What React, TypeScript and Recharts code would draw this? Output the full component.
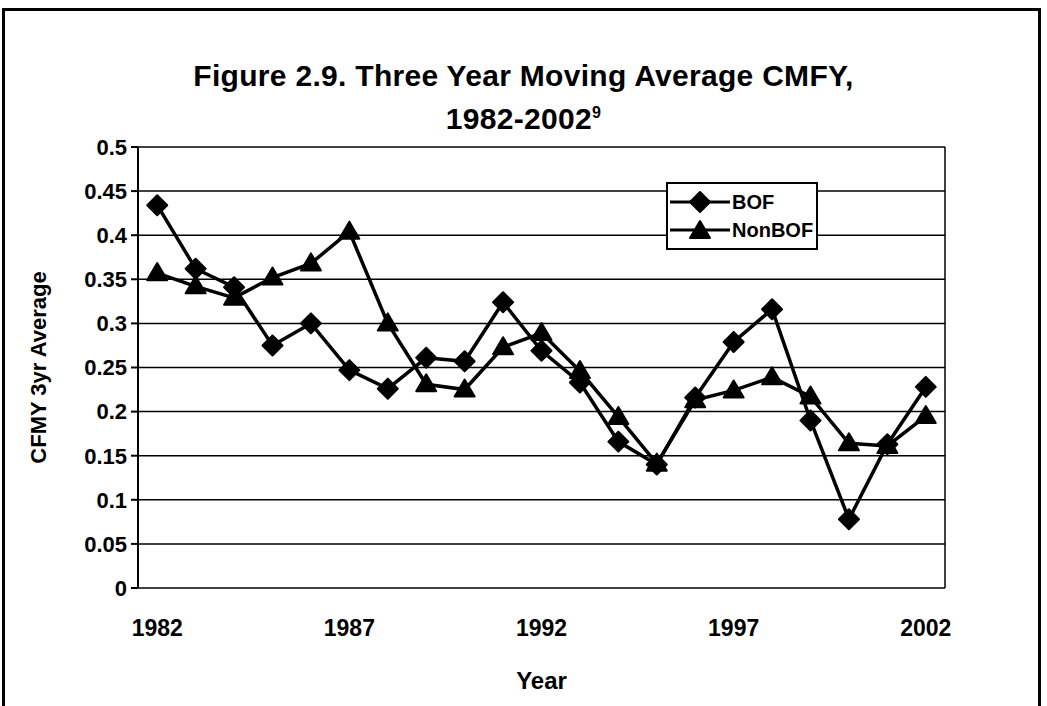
import React from 'react';
import { LineChart, Line, XAxis, YAxis, CartesianGrid, Legend, ReferenceLine } from 'recharts';

const years = [1982, 1983, 1984, 1985, 1986, 1987, 1988, 1989, 1990, 1991, 1992, 1993, 1994, 1995, 1996, 1997, 1998, 1999, 2000, 2001, 2002];
const bof = [0.434, 0.362, 0.341, 0.275, 0.3, 0.247, 0.226, 0.261, 0.257, 0.324, 0.269, 0.233, 0.166, 0.14, 0.216, 0.279, 0.316, 0.19, 0.078, 0.163, 0.228];
const nonBof = [0.357, 0.342, 0.329, 0.352, 0.368, 0.404, 0.3, 0.231, 0.225, 0.273, 0.289, 0.246, 0.194, 0.141, 0.213, 0.224, 0.239, 0.217, 0.164, 0.161, 0.195];
const yTicks = [0, 0.05, 0.1, 0.15, 0.2, 0.25, 0.3, 0.35, 0.4, 0.45, 0.5];
const yearLabels = [1982, 1987, 1992, 1997, 2002];
const yearEdges = [1981.5, 1982.5, 1983.5, 1984.5, 1985.5, 1986.5, 1987.5, 1988.5, 1989.5, 1990.5, 1991.5, 1992.5, 1993.5, 1994.5, 1995.5, 1996.5, 1997.5, 1998.5, 1999.5, 2000.5, 2001.5, 2002.5];

const data = years.map((year, i) => ({ year, bof: bof[i], nonBof: nonBof[i] }));

const font = '"Liberation Sans", Arial, sans-serif';

const Diamond = (props: any) => {
    const { cx, cy, key } = props;
    if (cx == null || cy == null) return <g key={key} />;
    const r = 10;
    return <polygon key={key} points={`${cx},${cy - r} ${cx + r},${cy} ${cx},${cy + r} ${cx - r},${cy}`} fill="#000" stroke="#000" strokeWidth={2} strokeLinejoin="round" />;
};

const Triangle = (props: any) => {
    const { cx, cy, key } = props;
    if (cx == null || cy == null) return <g key={key} />;
    const r = 10;
    return <polygon key={key} points={`${cx},${cy - r} ${cx + r},${cy + r * 0.7} ${cx - r},${cy + r * 0.7}`} fill="#000" stroke="#000" strokeWidth={2} strokeLinejoin="round" />;
};

const LegendBox = (props: any) => {
    const items = props.payload || [];
    return (
        <div style={{ border: '2px solid #000', background: '#fff', padding: '4px 2px', width: 152, boxSizing: 'border-box' }}>
            {items.map((item: any) => (
                <div key={item.value} style={{ display: 'flex', alignItems: 'center', height: 28 }}>
                    <svg width={60} height={24}>
                        <line x1={0} y1={12} x2={60} y2={12} stroke="#000" strokeWidth={3} />
                        {item.dataKey === 'bof' ? <Diamond cx={30} cy={12} /> : <Triangle cx={30} cy={13} />}
                    </svg>
                    <span style={{ fontFamily: font, fontWeight: 'bold', fontSize: 20, marginLeft: 2 }}>{item.value}</span>
                </div>
            ))}
        </div>
    );
};

const App = () => {
    return (
        <div style={{ position: 'absolute', left: 0, top: 0, width: 1047, height: 706, background: '#fff', overflow: 'hidden' }}>
            <div style={{ position: 'absolute', left: 2, top: 8, right: 6, bottom: -4, border: '3px solid #000' }} />
            <div style={{ position: 'absolute', left: 0, top: 54, width: 1047, textAlign: 'center', fontFamily: font, fontWeight: 'bold', fontSize: 30, lineHeight: '43px', letterSpacing: 0.3, color: '#000' }}>
                <div>Figure 2.9. Three Year Moving Average CMFY,</div>
                <div>1982-2002<sup style={{ fontSize: 16, lineHeight: 0 }}>9</sup></div>
            </div>
            <LineChart
                width={1047}
                height={706}
                data={data}
                margin={{ top: 147, right: 102, left: 28, bottom: 0 }}
                style={{ position: 'absolute', left: 0, top: 0 }}
            >
                <CartesianGrid vertical={false} stroke="#000" strokeWidth={1.5} />
                <XAxis
                    xAxisId="edges"
                    type="number"
                    dataKey="year"
                    domain={[1981.5, 2002.5]}
                    ticks={yearEdges}
                    tick={() => <g />}
                    tickSize={7}
                    height={0}
                    stroke="#000"
                    strokeWidth={2}
                />
                <XAxis
                    xAxisId="years"
                    type="number"
                    dataKey="year"
                    domain={[1981.5, 2002.5]}
                    ticks={yearLabels}
                    axisLine={false}
                    tickLine={false}
                    tickMargin={26}
                    height={118}
                    tick={{ fill: '#000', fontFamily: font, fontWeight: 'bold', fontSize: 23 }}
                    label={{ value: 'Year', position: 'insideTop', offset: 84, fill: '#000', fontFamily: font, fontWeight: 'bold', fontSize: 24 }}
                />
                <YAxis
                    domain={[0, 0.5]}
                    ticks={yTicks}
                    width={110}
                    tickSize={7}
                    tickMargin={4}
                    stroke="#000"
                    strokeWidth={2}
                    tick={{ fill: '#000', fontFamily: font, fontWeight: 'bold', fontSize: 22 }}
                    label={{ value: 'CFMY 3yr Average', angle: -90, position: 'insideLeft', offset: 10, fill: '#000', fontFamily: font, fontWeight: 'bold', fontSize: 22, style: { textAnchor: 'middle' } }}
                />
                <ReferenceLine xAxisId="years" x={2002.5} stroke="#000" strokeWidth={1.5} />
                <Legend
                    layout="vertical"
                    verticalAlign="middle"
                    align="center"
                    content={<LegendBox />}
                    wrapperStyle={{ left: 666, top: 182, width: 152 }}
                />
                <Line xAxisId="years" dataKey="bof" name="BOF" stroke="#000" strokeWidth={3.5} dot={<Diamond />} isAnimationActive={false} />
                <Line xAxisId="years" dataKey="nonBof" name="NonBOF" stroke="#000" strokeWidth={3.5} dot={<Triangle />} isAnimationActive={false} />
            </LineChart>
        </div>
    );
};

export default App;
